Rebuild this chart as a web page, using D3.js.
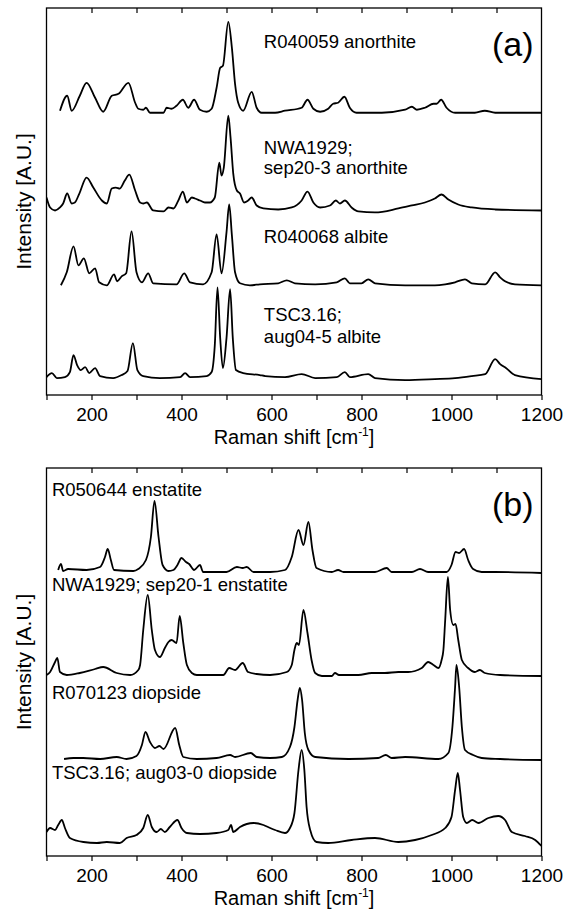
<!DOCTYPE html>
<html>
<head>
<meta charset="utf-8">
<script src="https://cdn.jsdelivr.net/npm/d3@7"></script>
<style>
body { margin: 0; background: #fff; }
svg text { font-family: "Liberation Sans", Arial, sans-serif; fill: #000; }
.spec { fill: none; stroke: #000; stroke-width: 1.8; stroke-linejoin: round; }
.frame { fill: none; stroke: #000; stroke-width: 1.3; }
.tick line { stroke: #000; stroke-width: 1.2; }
</style>
</head>
<body>
<script>

//Raman spectra: [shift cm-1, intensity A.U. (stacked)]
//panel (a) feldspars
var r040059 = [[130,285],[146,300],[156,285],[174,300],[189,313],[208,298],[226,284],[245,300],[260,302],[282,313],[297,293],[304,287],[315,286],[321,288],[330,283],[360,283],[367,288],[378,287],[389,290],[403,296],[415,288],[428,296],[441,286],[456,284],[467,287],[478,308],[486,328],[492,330],[504,374],[512,348],[519,312],[526,293],[537,285],[556,304],[567,288],[578,283],[608,283],[630,285],[667,288],[680,296],[693,287],[708,284],[726,287],[737,292],[748,293],[762,299],[774,288],[789,283],[845,283],[897,286],[912,289],[923,286],[941,288],[960,292],[967,292],[977,296],[989,288],[1008,283],[1052,283],[1074,285],[1097,283],[1200,283]];
var sep20_3 = [[100,198],[108,188],[119,185],[130,188],[137,192],[146,202],[156,192],[163,193],[173,202],[189,218],[204,208],[223,195],[234,192],[245,207],[254,208],[263,207],[274,215],[284,221],[297,205],[308,193],[315,192],[323,193],[337,185],[360,184],[371,188],[382,187],[393,195],[403,204],[412,193],[423,198],[430,197],[441,195],[452,193],[463,193],[474,198],[484,233],[489,220],[494,228],[504,280],[509,258],[515,222],[523,205],[530,202],[539,193],[548,195],[556,198],[567,190],[582,187],[615,186],[645,188],[667,195],[680,204],[693,193],[708,188],[730,190],[743,195],[752,192],[763,195],[778,188],[793,184],[830,183],[882,187],[912,190],[941,193],[963,197],[978,201],[993,196],[1015,191],[1045,188],[1097,186],[1200,185]];
var r040068 = [[132,110],[145,123],[160,149],[171,130],[183,137],[195,122],[208,127],[217,113],[234,110],[250,121],[257,114],[267,119],[277,122],[289,164],[300,123],[312,113],[326,122],[337,112],[389,111],[406,122],[419,113],[448,111],[467,123],[478,161],[489,122],[500,163],[506,191],[512,160],[519,123],[530,112],[552,110],[574,111],[615,112],[634,115],[652,112],[697,111],[745,113],[763,117],[774,112],[800,112],[815,116],[830,112],[897,110],[963,110],[986,111],[1008,113],[1030,116],[1045,112],[1075,111],[1097,123],[1108,118],[1119,114],[1141,111],[1200,110]];
var aug04_5 = [[100,18],[112,22],[123,17],[141,18],[152,23],[160,40],[168,30],[176,25],[186,28],[195,22],[208,27],[219,19],[248,17],[267,20],[280,24],[292,52],[302,25],[315,19],[352,17],[397,18],[408,22],[419,18],[456,19],[467,23],[474,50],[480,108],[486,57],[492,27],[500,57],[508,106],[514,57],[521,25],[537,22],[574,20],[586,19],[630,18],[667,21],[697,17],[745,18],[763,23],[774,18],[815,21],[830,17],[897,15],[963,16],[1008,17],[1045,19],[1075,21],[1097,36],[1108,31],[1121,27],[1141,20],[1200,16]];

//panel (b) pyroxenes
var r050644 = [[126,286],[132,292],[137,285],[148,287],[189,286],[219,289],[230,299],[236,307],[243,296],[250,286],[293,285],[304,287],[321,296],[332,319],[340,355],[349,319],[358,291],[371,285],[382,286],[391,291],[400,298],[410,294],[417,292],[428,286],[441,291],[448,284],[500,284],[523,289],[536,288],[545,289],[560,284],[597,284],[630,286],[645,299],[660,326],[671,311],[682,334],[691,306],[700,288],[734,284],[748,286],[760,284],[830,284],[856,288],[867,284],[912,284],[930,287],[948,284],[989,284],[1000,291],[1009,304],[1017,303],[1028,307],[1037,296],[1048,287],[1067,284],[1097,284],[1200,283]];
var sep20_1 = [[100,181],[108,184],[119,194],[124,198],[130,184],[145,181],[174,183],[208,187],[226,189],[256,183],[286,181],[304,186],[308,191],[315,226],[325,261],[334,226],[341,206],[352,199],[363,208],[371,214],[378,216],[389,213],[396,240],[404,213],[412,191],[423,183],[434,181],[493,181],[506,188],[519,186],[536,193],[548,184],[567,182],[597,181],[634,184],[645,191],[651,206],[656,213],[661,211],[671,246],[680,223],[689,196],[697,183],[712,180],[734,180],[741,183],[750,181],[793,181],[823,183],[852,183],[882,184],[904,184],[934,188],[948,194],[960,191],[971,188],[978,196],[982,206],[986,236],[992,279],[997,246],[1004,231],[1009,232],[1015,216],[1023,196],[1037,188],[1052,184],[1063,186],[1074,183],[1108,181],[1200,180]];
var r070123 = [[139,97],[160,98],[182,98],[219,97],[256,99],[278,97],[300,100],[312,111],[320,124],[330,114],[341,108],[351,110],[360,107],[386,128],[395,111],[404,99],[434,97],[478,98],[508,101],[519,99],[554,103],[567,99],[597,98],[623,99],[641,109],[651,129],[658,156],[663,168],[668,156],[674,123],[682,106],[697,99],[771,97],[837,98],[854,101],[867,98],[897,99],[971,97],[993,103],[1002,129],[1008,169],[1011,191],[1017,169],[1023,129],[1030,106],[1048,101],[1067,98],[1108,97],[1200,96]];
var aug03_0 = [[100,24],[108,28],[119,26],[126,31],[134,36],[141,28],[152,18],[182,14],[212,13],[234,14],[263,13],[278,18],[300,21],[315,28],[325,41],[334,29],[345,24],[354,27],[363,24],[374,29],[391,36],[400,28],[412,23],[441,22],[478,23],[504,26],[510,31],[515,24],[530,29],[560,33],[582,31],[597,28],[608,26],[630,23],[641,28],[651,43],[660,86],[667,106],[673,86],[678,49],[686,26],[700,14],[726,13],[778,16],[830,18],[882,14],[919,16],[956,21],[986,28],[1000,39],[1008,66],[1014,83],[1019,66],[1026,39],[1034,33],[1046,36],[1060,33],[1082,38],[1104,40],[1119,36],[1134,24],[1163,20],[1186,16],[1200,10]];

var spectraA = [r040059, sep20_3, r040068, aug04_5];
var spectraB = [r050644, sep20_1, r070123, aug03_0];

var namesA = [["R040059 anorthite"], ["NWA1929;", "sep20-3 anorthite"], ["R040068 albite"], ["TSC3.16;", "aug04-5 albite"]];
var namesB = [["R050644 enstatite"], ["NWA1929; sep20-1 enstatite"], ["R070123 diopside"], ["TSC3.16; aug03-0 diopside"]];

var tickValues = [100, 200, 300, 400, 500, 600, 700, 800, 900, 1000, 1100, 1200];
var tickLabels = ["", "200", "", "400", "", "600", "", "800", "", "1000", "", "1200"];

var width = 569,
    height = 913;

var svg = d3.select("body")
    .append("svg")
    .attr("width", width)
    .attr("height", height);

var x = d3.scaleLinear()
    .domain([100, 1200])
    .range([46.5, 541.5]);

//label anchor points in data units [shift, intensity], and line spacing
var posA = [[583, 348, 0], [583, 242, 20], [583, 152, 0], [583, 74, 22]];
var posB = [[112, 360, 0], [112, 265, 0], [112, 157, 0], [112, 77, 0]];

drawPanel(8, 395, spectraA, namesA, posA, "(a)");
drawPanel(468, 856, spectraB, namesB, posB, "(b)");

function drawPanel(top, bottom, spectra, names, pos, tag){

    var y = d3.scaleLinear()
        .domain([0, 388])
        .range([bottom, top]);

    var g = svg.append("g");

    var clipId = "clip" + top;
    g.append("clipPath")
        .attr("id", clipId)
        .append("rect")
        .attr("x", x.range()[0])
        .attr("y", top)
        .attr("width", x.range()[1] - x.range()[0])
        .attr("height", bottom - top);

    var line = d3.line()
        .x(function(d){ return x(d[0]); })
        .y(function(d){ return y(d[1]); })
        .curve(d3.curveMonotoneX);

    g.selectAll(".spec")
        .data(spectra)
        .enter()
        .append("path")
        .attr("class", "spec")
        .attr("clip-path", "url(#" + clipId + ")")
        .attr("d", line);

    //bottom axis, ticks out
    var xAxis = d3.axisBottom(x)
        .tickValues(tickValues)
        .tickSize(5)
        .tickSizeOuter(0)
        .tickPadding(8)
        .tickFormat(function(d, i){ return tickLabels[i]; });

    var ax = g.append("g")
        .attr("transform", "translate(0," + bottom + ")")
        .call(xAxis);
    ax.select(".domain").remove();
    ax.selectAll("text")
        .style("font-size", "19px");

    //top axis, ticks in
    var topAxis = d3.axisTop(x)
        .tickValues(tickValues.slice(1, -1))
        .tickSize(-5)
        .tickFormat("");
    var tx = g.append("g")
        .attr("transform", "translate(0," + top + ")")
        .call(topAxis);
    tx.select(".domain").remove();

    g.append("rect")
        .attr("class", "frame")
        .attr("x", x.range()[0])
        .attr("y", top)
        .attr("width", x.range()[1] - x.range()[0])
        .attr("height", bottom - top);

    //axis titles
    var xt = g.append("text")
        .attr("x", (x.range()[0] + x.range()[1]) / 2)
        .attr("y", bottom + 49)
        .attr("text-anchor", "middle")
        .style("font-size", "20px")
        .text("Raman shift [cm");
    xt.append("tspan")
        .attr("dy", -8)
        .style("font-size", "12px")
        .text("-1");
    xt.append("tspan")
        .attr("dy", 8)
        .text("]");

    g.append("text")
        .attr("transform", "translate(31," + ((top + bottom) / 2) + ") rotate(-90)")
        .attr("text-anchor", "middle")
        .style("font-size", "21px")
        .text("Intensity [A.U.]");

    //sample names
    names.forEach(function(lines, i){
        var t = g.append("text")
            .attr("x", x(pos[i][0]))
            .attr("y", y(pos[i][1]))
            .style("font-size", "18.5px");
        lines.forEach(function(s, j){
            t.append("tspan")
                .attr("x", x(pos[i][0]))
                .attr("dy", j === 0 ? 0 : pos[i][2])
                .text(s);
        });
    });

    g.append("text")
        .attr("x", x.range()[1] - 8)
        .attr("y", top + 48)
        .attr("text-anchor", "end")
        .style("font-size", "34px")
        .text(tag);
}

</script>
</body>
</html>
